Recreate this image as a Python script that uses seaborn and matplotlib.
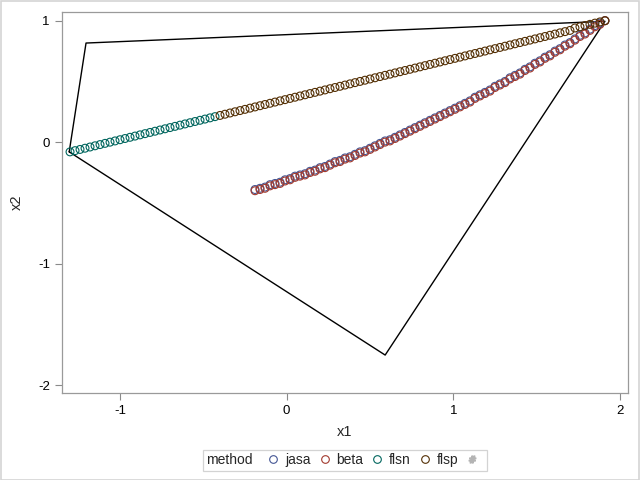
import pandas as pd
import matplotlib
matplotlib.use('Agg')
import matplotlib.pyplot as plt
import seaborn as sns
from matplotlib.lines import Line2D
from matplotlib.patches import Rectangle
from matplotlib.offsetbox import HPacker

# 数据
curve_x = [-0.19, -0.16, -0.13, -0.10, -0.07, -0.04, -0.01, 0.02, 0.05, 0.08,
           0.11, 0.14, 0.17, 0.20, 0.23, 0.26, 0.29, 0.32, 0.35, 0.38,
           0.41, 0.44, 0.47, 0.50, 0.53, 0.56, 0.59, 0.62, 0.65, 0.68,
           0.71, 0.74, 0.77, 0.80, 0.83, 0.86, 0.89, 0.92, 0.95, 0.98,
           1.01, 1.04, 1.07, 1.10, 1.13, 1.16, 1.19, 1.22, 1.25, 1.28,
           1.31, 1.34, 1.37, 1.40, 1.43, 1.46, 1.49, 1.52, 1.55, 1.58,
           1.61, 1.64, 1.67, 1.70, 1.73, 1.76, 1.79, 1.82, 1.85, 1.88, 1.91]
jasa_y = [-0.39, -0.38, -0.37, -0.35, -0.34, -0.33, -0.31, -0.30, -0.28, -0.27,
          -0.26, -0.24, -0.23, -0.21, -0.20, -0.18, -0.16, -0.15, -0.13, -0.12,
          -0.10, -0.08, -0.07, -0.05, -0.03, -0.01, 0.01, 0.02, 0.04, 0.06,
          0.08, 0.10, 0.12, 0.14, 0.16, 0.18, 0.20, 0.22, 0.24, 0.26,
          0.28, 0.30, 0.32, 0.34, 0.37, 0.39, 0.41, 0.43, 0.46, 0.48,
          0.50, 0.53, 0.55, 0.57, 0.60, 0.62, 0.65, 0.67, 0.70, 0.72,
          0.75, 0.77, 0.80, 0.82, 0.85, 0.88, 0.90, 0.93, 0.96, 0.98, 1.00]
beta_y = [-0.40, -0.39, -0.38, -0.36, -0.35, -0.34, -0.32, -0.31, -0.29, -0.28,
          -0.27, -0.25, -0.24, -0.22, -0.21, -0.19, -0.17, -0.16, -0.14, -0.13,
          -0.11, -0.09, -0.08, -0.06, -0.04, -0.02, -0.00, 0.01, 0.03, 0.05,
          0.07, 0.09, 0.11, 0.13, 0.15, 0.17, 0.19, 0.21, 0.23, 0.25,
          0.27, 0.29, 0.31, 0.33, 0.36, 0.38, 0.40, 0.42, 0.45, 0.47,
          0.49, 0.52, 0.54, 0.56, 0.59, 0.61, 0.64, 0.66, 0.69, 0.71,
          0.74, 0.76, 0.79, 0.81, 0.84, 0.87, 0.89, 0.92, 0.95, 0.97, 1.00]

flsn_x = [-1.30, -1.27, -1.24, -1.21, -1.18, -1.15, -1.12, -1.09, -1.06, -1.03,
          -1.00, -0.97, -0.94, -0.91, -0.88, -0.85, -0.82, -0.79, -0.76, -0.73,
          -0.70, -0.67, -0.64, -0.61, -0.58, -0.55, -0.52, -0.49, -0.46, -0.43]
flsn_y = [-0.08, -0.07, -0.06, -0.05, -0.04, -0.03, -0.02, -0.01, 0.00, 0.01,
          0.02, 0.03, 0.04, 0.05, 0.06, 0.07, 0.08, 0.09, 0.10, 0.11,
          0.12, 0.13, 0.14, 0.15, 0.16, 0.17, 0.18, 0.19, 0.20, 0.21]

flsp_x = [-0.40, -0.37, -0.34, -0.31, -0.28, -0.25, -0.22, -0.19, -0.16, -0.13,
          -0.10, -0.07, -0.04, -0.01, 0.02, 0.05, 0.08, 0.11, 0.14, 0.17,
          0.20, 0.23, 0.26, 0.29, 0.32, 0.35, 0.38, 0.41, 0.44, 0.47,
          0.50, 0.53, 0.56, 0.59, 0.62, 0.65, 0.68, 0.71, 0.74, 0.77,
          0.80, 0.83, 0.86, 0.89, 0.92, 0.95, 0.98, 1.01, 1.04, 1.07,
          1.10, 1.13, 1.16, 1.19, 1.22, 1.25, 1.28, 1.31, 1.34, 1.37,
          1.40, 1.43, 1.46, 1.49, 1.52, 1.55, 1.58, 1.61, 1.64, 1.67,
          1.70, 1.73, 1.76, 1.79, 1.82, 1.85, 1.88, 1.91]
flsp_y = [0.22, 0.23, 0.24, 0.25, 0.26, 0.27, 0.28, 0.29, 0.30, 0.31,
          0.32, 0.33, 0.34, 0.35, 0.36, 0.37, 0.38, 0.39, 0.40, 0.41,
          0.42, 0.43, 0.44, 0.45, 0.46, 0.47, 0.48, 0.49, 0.50, 0.51,
          0.52, 0.53, 0.54, 0.55, 0.56, 0.57, 0.58, 0.59, 0.60, 0.61,
          0.62, 0.63, 0.64, 0.65, 0.66, 0.67, 0.68, 0.69, 0.70, 0.71,
          0.72, 0.73, 0.74, 0.75, 0.76, 0.77, 0.78, 0.79, 0.80, 0.81,
          0.82, 0.83, 0.84, 0.85, 0.86, 0.87, 0.88, 0.89, 0.90, 0.91,
          0.92, 0.94, 0.95, 0.96, 0.97, 0.98, 0.99, 1.00]

# 多边形顶点
poly_x = [-1.305, -1.204, 1.91, 0.591, -1.305]
poly_y = [-0.08, 0.816, 0.995, -1.753, -0.08]

methods = ['jasa', 'beta', 'flsn', 'flsp']
colors = {'jasa': '#445694', 'beta': '#A23A2E', 'flsn': '#01665E', 'flsp': '#543005'}

df = pd.concat([
    pd.DataFrame({'x1': curve_x, 'x2': jasa_y, 'method': 'jasa'}),
    pd.DataFrame({'x1': curve_x, 'x2': beta_y, 'method': 'beta'}),
    pd.DataFrame({'x1': flsn_x, 'x2': flsn_y, 'method': 'flsn'}),
    pd.DataFrame({'x1': flsp_x, 'x2': flsp_y, 'method': 'flsp'}),
], ignore_index=True)

sns.set_style('ticks')
plt.rcParams['font.family'] = ['Liberation Sans', 'DejaVu Sans']
plt.rcParams['axes.unicode_minus'] = False

fig = plt.figure(figsize=(6.4, 4.8), dpi=100)
ax = fig.add_axes([0.0964, 0.1806, 0.8853, 0.795])

ax.plot(poly_x, poly_y, color='black', lw=1.0, zorder=1)

sns.scatterplot(data=df, x='x1', y='x2', hue='method', hue_order=methods,
                palette=colors, marker='o', s=32, linewidth=0.8, legend=False,
                ax=ax, zorder=2)
pts = ax.collections[-1]
fc = pts.get_facecolors()
pts.set_edgecolors(fc)
pts.set_facecolors('none')

ax.set_xlim(-1.35, 2.05)
ax.set_ylim(-2.068, 1.074)
ax.set_xticks([-1, 0, 1, 2])
ax.set_yticks([-2, -1, 0, 1])
ax.set_xticklabels(['-1', '0', '1', '2'])
ax.set_yticklabels(['-2', '-1', '0', '1'])
ax.tick_params(colors='#8a8a8a', labelcolor='black', labelsize=9.5, length=5, width=0.8)
for sp in ax.spines.values():
    sp.set_visible(True)
    sp.set_color('#9a9a9a')
    sp.set_linewidth(0.9)
ax.set_xlabel('x1', fontsize=10.5, labelpad=6)
ax.set_ylabel('x2', fontsize=10.5, labelpad=10)

# 图例
handles = [Line2D([], [], ls='none', marker='o', mfc='none', mec=colors[m],
                  mew=0.8, ms=5.5, label=m) for m in methods]
handles.append(Line2D([], [], ls='none', marker='$\\#$', color='#b4b4b4', ms=5, label=''))
leg = fig.legend(handles=handles, title='method', ncol=5, loc='center',
                 bbox_to_anchor=(0.539, 0.041), fontsize=10, title_fontsize=10,
                 frameon=True, fancybox=False, edgecolor='#c8c8c8',
                 handlelength=0.8, handletextpad=0.45, columnspacing=0.6,
                 borderpad=0.25)
leg.get_frame().set_linewidth(0.9)
fs = leg._fontsize
box = HPacker(pad=leg.borderpad * fs, sep=1.1 * fs, align='center',
              children=[leg._legend_title_box, leg._legend_handle_box])
box.set_figure(fig)
box.axes = leg.axes
box.set_offset(leg._findoffset)
leg._legend_box = box

fig.patches.append(Rectangle((0.001, 0.001), 0.998, 0.997, transform=fig.transFigure,
                             fill=False, edgecolor='#d4d4d4', lw=1.2))

fig.savefig('out.png', dpi=100)
